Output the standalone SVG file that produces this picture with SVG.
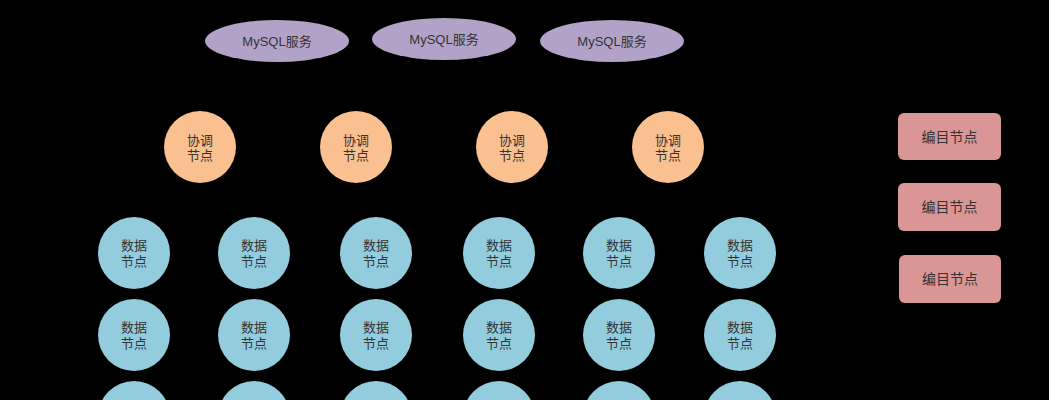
<svg xmlns="http://www.w3.org/2000/svg" width="1049" height="400" viewBox="0 0 1049 400">
<defs>
<style>
.t{font-family:"Liberation Sans","Noto Sans CJK SC",sans-serif;font-size:13px;fill:#333;text-anchor:middle}
.mysql{fill:#B3A2C7}
.coord{fill:#FAC090}
.data{fill:#93CDDD}
.edit{fill:#D99694}
.conn{stroke:#000;stroke-width:1.2;fill:none;marker-end:url(#arr)}
</style>
<marker id="arr" viewBox="0 0 10 10" refX="9" refY="5" markerWidth="6" markerHeight="6" orient="auto">
<path d="M0,0L10,5L0,10z" fill="#000"/>
</marker>
</defs>
<rect width="1049" height="400" fill="#000"/>
<g id="connectors">
<path class="conn" d="M207,111L287,63"/>
<path class="conn" d="M356,111L444,61"/>
<path class="conn" d="M512,111L444,61"/>
<path class="conn" d="M668,111L604,63"/>
<path class="conn" d="M200,183L134,217"/>
<path class="conn" d="M200,183L254,217"/>
<path class="conn" d="M356,183L376,217"/>
<path class="conn" d="M512,183L499,217"/>
<path class="conn" d="M668,183L619,217"/>
<path class="conn" d="M668,183L740,217"/>
</g>
<g id="mysql1"><ellipse class="mysql" cx="277" cy="41" rx="72" ry="21"/><text class="t" x="277" y="46">MySQL服务</text></g>
<g id="mysql2"><ellipse class="mysql" cx="444" cy="39" rx="72" ry="21"/><text class="t" x="444" y="44">MySQL服务</text></g>
<g id="mysql3"><ellipse class="mysql" cx="612" cy="41" rx="72" ry="21"/><text class="t" x="612" y="46">MySQL服务</text></g>
<g id="coord1"><circle class="coord" cx="200" cy="147" r="36"/><text class="t" x="200" y="145">协调</text><text class="t" x="200" y="160">节点</text></g>
<g id="coord2"><circle class="coord" cx="356" cy="147" r="36"/><text class="t" x="356" y="145">协调</text><text class="t" x="356" y="160">节点</text></g>
<g id="coord3"><circle class="coord" cx="512" cy="147" r="36"/><text class="t" x="512" y="145">协调</text><text class="t" x="512" y="160">节点</text></g>
<g id="coord4"><circle class="coord" cx="668" cy="147" r="36"/><text class="t" x="668" y="145">协调</text><text class="t" x="668" y="160">节点</text></g>
<g id="data11"><circle class="data" cx="134" cy="253" r="36"/><text class="t" x="134" y="250">数据</text><text class="t" x="134" y="266">节点</text></g>
<g id="data12"><circle class="data" cx="254" cy="253" r="36"/><text class="t" x="254" y="250">数据</text><text class="t" x="254" y="266">节点</text></g>
<g id="data13"><circle class="data" cx="376" cy="253" r="36"/><text class="t" x="376" y="250">数据</text><text class="t" x="376" y="266">节点</text></g>
<g id="data14"><circle class="data" cx="499" cy="253" r="36"/><text class="t" x="499" y="250">数据</text><text class="t" x="499" y="266">节点</text></g>
<g id="data15"><circle class="data" cx="619" cy="253" r="36"/><text class="t" x="619" y="250">数据</text><text class="t" x="619" y="266">节点</text></g>
<g id="data16"><circle class="data" cx="740" cy="253" r="36"/><text class="t" x="740" y="250">数据</text><text class="t" x="740" y="266">节点</text></g>
<g id="data21"><circle class="data" cx="134" cy="335" r="36"/><text class="t" x="134" y="332">数据</text><text class="t" x="134" y="348">节点</text></g>
<g id="data22"><circle class="data" cx="254" cy="335" r="36"/><text class="t" x="254" y="332">数据</text><text class="t" x="254" y="348">节点</text></g>
<g id="data23"><circle class="data" cx="376" cy="335" r="36"/><text class="t" x="376" y="332">数据</text><text class="t" x="376" y="348">节点</text></g>
<g id="data24"><circle class="data" cx="499" cy="335" r="36"/><text class="t" x="499" y="332">数据</text><text class="t" x="499" y="348">节点</text></g>
<g id="data25"><circle class="data" cx="619" cy="335" r="36"/><text class="t" x="619" y="332">数据</text><text class="t" x="619" y="348">节点</text></g>
<g id="data26"><circle class="data" cx="740" cy="335" r="36"/><text class="t" x="740" y="332">数据</text><text class="t" x="740" y="348">节点</text></g>
<g id="data31"><circle class="data" cx="134" cy="417" r="36"/></g>
<g id="data32"><circle class="data" cx="254" cy="417" r="36"/></g>
<g id="data33"><circle class="data" cx="376" cy="417" r="36"/></g>
<g id="data34"><circle class="data" cx="499" cy="417" r="36"/></g>
<g id="data35"><circle class="data" cx="619" cy="417" r="36"/></g>
<g id="data36"><circle class="data" cx="740" cy="417" r="36"/></g>
<g id="edit1"><rect class="edit" x="898" y="113" width="103" height="47" rx="6"/><text class="t" x="949.5" y="142" style="font-size:14px">编目节点</text></g>
<g id="edit2"><rect class="edit" x="898" y="183" width="103" height="48" rx="6"/><text class="t" x="949.5" y="212" style="font-size:14px">编目节点</text></g>
<g id="edit3"><rect class="edit" x="899" y="255" width="102" height="48" rx="6"/><text class="t" x="950" y="284" style="font-size:14px">编目节点</text></g>
</svg>
